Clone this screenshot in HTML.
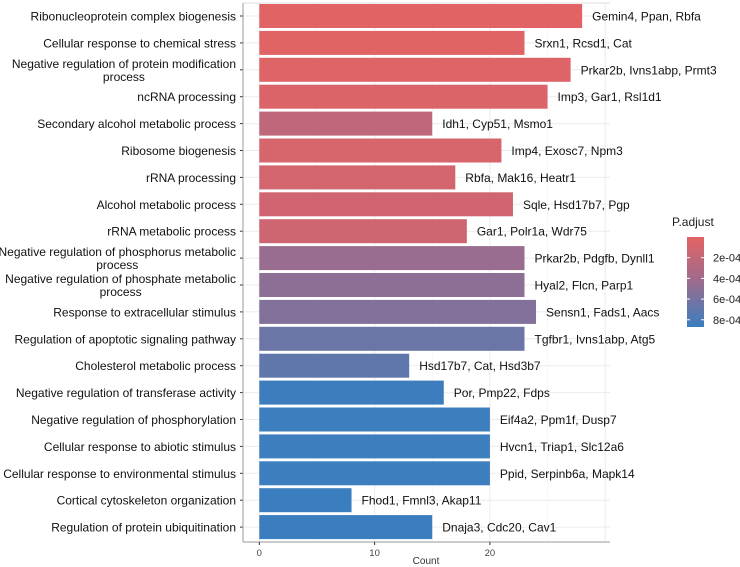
<!DOCTYPE html>
<html><head><meta charset="utf-8">
<style>
html,body{margin:0;padding:0;background:#fff;}
svg{display:block;font-family:"Liberation Sans",sans-serif;}
</style></head>
<body>
<svg id="chart" width="740" height="567" viewBox="0 0 740 567">
<defs>
<linearGradient id="grad" x1="0" y1="0" x2="0" y2="1">
<stop offset="0" stop-color="#E36364"/>
<stop offset="0.5" stop-color="#9B6C8E"/>
<stop offset="1" stop-color="#3A7EBF"/>
</linearGradient>
</defs>
<g id="grid"></g>
<g id="bars"></g>
<g id="labels"></g>
<g id="axes"></g>
<g id="legend">
<text x="672" y="226" font-size="12" fill="#222">P.adjust</text>
<rect x="687" y="237" width="17" height="90" fill="url(#grad)"></rect>
</g>
</svg>
<script>
const categories=["Ribonucleoprotein complex biogenesis","Cellular response to chemical stress","Negative regulation of protein modification|process","ncRNA processing","Secondary alcohol metabolic process","Ribosome biogenesis","rRNA processing","Alcohol metabolic process","rRNA metabolic process","Negative regulation of phosphorus metabolic|process","Negative regulation of phosphate metabolic|process","Response to extracellular stimulus","Regulation of apoptotic signaling pathway","Cholesterol metabolic process","Negative regulation of transferase activity","Negative regulation of phosphorylation","Cellular response to abiotic stimulus","Cellular response to environmental stimulus","Cortical cytoskeleton organization","Regulation of protein ubiquitination"];
const counts=[28,23,27,25,15,21,17,22,18,23,23,24,23,13,16,20,20,20,8,15];
const padj=[0.00001,0.00002,0.00003,0.00005,0.00022,0.00008,0.0001,0.00011,0.00013,0.00045,0.0005,0.00055,0.00065,0.0007,0.00085,0.00086,0.00086,0.00086,0.00087,0.00087];
const genes=["Gemin4, Ppan, Rbfa","Srxn1, Rcsd1, Cat","Prkar2b, Ivns1abp, Prmt3","Imp3, Gar1, Rsl1d1","Idh1, Cyp51, Msmo1","Imp4, Exosc7, Npm3","Rbfa, Mak16, Heatr1","Sqle, Hsd17b7, Pgp","Gar1, Polr1a, Wdr75","Prkar2b, Pdgfb, Dynll1","Hyal2, Flcn, Parp1","Sensn1, Fads1, Aacs","Tgfbr1, Ivns1abp, Atg5","Hsd17b7, Cat, Hsd3b7","Por, Pmp22, Fdps","Eif4a2, Ppm1f, Dusp7","Hvcn1, Triap1, Slc12a6","Ppid, Serpinb6a, Mapk14","Fhod1, Fmnl3, Akap11","Dnaja3, Cdc20, Cav1"];
const xTicks=[0,10,20];
const legendTicks=["2e-04","4e-04","6e-04","8e-04"];
const legendVals=[0.0002,0.0004,0.0006,0.0008];

const NS="http://www.w3.org/2000/svg";
const px0=243,px1=610,py0=3,py1=542;
const x=v=>259.3+v*11.53;
const yc=i=>16+i*26.9;
const bh=24;
const lgY=v=>237+v/0.00087*90;
function mk(t,a,p){const e=document.createElementNS(NS,t);for(const k in a)e.setAttribute(k,a[k]);p.appendChild(e);return e;}
function lerp(a,b,t){return a.map((v,i)=>Math.round(v+(b[i]-v)*t));}
function col(p){const t=Math.min(1,Math.max(0,p/0.00087));const r=[227,99,100],m=[155,108,142],b=[58,126,191];const c=t<0.5?lerp(r,m,t*2):lerp(m,b,(t-0.5)*2);return `rgb(${c.join(',')})`;}
const grid=document.getElementById('grid'),barsG=document.getElementById('bars'),lab=document.getElementById('labels'),ax=document.getElementById('axes'),lg=document.getElementById('legend');
// grid
[5,15,25].forEach(v=>{const l=mk('line',{x1:x(v),x2:x(v),y1:py0,y2:py1,stroke:'#f3f3f3','stroke-width':0.6},grid);});
xTicks.concat([30]).forEach(v=>{if(x(v)>px1)return;const l=mk('line',{x1:x(v),x2:x(v),y1:py0,y2:py1,stroke:'#ebebeb','stroke-width':1},grid);});
categories.forEach((c,i)=>{const l=mk('line',{x1:px0,x2:px1,y1:yc(i),y2:yc(i),stroke:'#ebebeb','stroke-width':1},grid);});
// bars
categories.forEach((c,i)=>{
 const r=mk('rect',{x:x(0),y:yc(i)-bh/2,width:x(counts[i])-x(0),height:bh,fill:col(padj[i])},barsG);
 
 
 const g=mk('text',{x:x(counts[i])+10,y:yc(i)+4.5,'font-size':12,fill:'#111'},lab);
 g.textContent=genes[i];
 
 
 const lines=c.split('|');
 const t=mk('text',{'font-size':12,fill:'#111'},lab);
 
 
 if(lines.length===1){t.setAttribute('x',236);t.setAttribute('y',yc(i)+4.5);t.setAttribute('text-anchor','end');t.textContent=lines[0];}
 else{
  const w=Math.max(...lines.map(s=>{const tmp=mk('text',{'font-size':12},lab);tmp.textContent=s;const len=tmp.getComputedTextLength();tmp.remove();return len;}));
  const cx=236-w/2;
  lines.forEach((s,k)=>{const ts=mk('tspan',{x:cx,y:yc(i)-2+k*13,'text-anchor':'middle'},t);ts.textContent=s;});
 }
 const tk=mk('line',{x1:px0-3,x2:px0,y1:yc(i),y2:yc(i),stroke:'#333'},ax);
 
 
});
// axes
const al=mk('line',{x1:px0,x2:px0,y1:py0,y2:py1,stroke:'#999'},ax);

const bl=mk('line',{x1:px0,x2:px1,y1:py1,y2:py1,stroke:'#999'},ax);

const tl=mk('line',{x1:px0,x2:px1,y1:py0,y2:py0,stroke:'#ddd'},ax);

xTicks.forEach(v=>{
 const l=mk('line',{x1:x(v),x2:x(v),y1:py1,y2:py1+3,stroke:'#333'},ax);
 
 const t=mk('text',{x:x(v),y:py1+14,'font-size':9.5,fill:'#444','text-anchor':'middle'},ax);
 t.textContent=v;
});
const xt=mk('text',{x:426,y:564,'font-size':10,fill:'#333','text-anchor':'middle'},ax);
xt.textContent='Count';
legendVals.forEach((v,i)=>{
 const y=lgY(v);
 mk('line',{x1:687,x2:690,y1:y,y2:y,stroke:'#fff'},lg);
 mk('line',{x1:701,x2:704,y1:y,y2:y,stroke:'#fff'},lg);
 const t=mk('text',{x:713,y:y+4,'font-size':11,fill:'#222'},lg);
 t.textContent=legendTicks[i];
});
</script>
</body></html>
